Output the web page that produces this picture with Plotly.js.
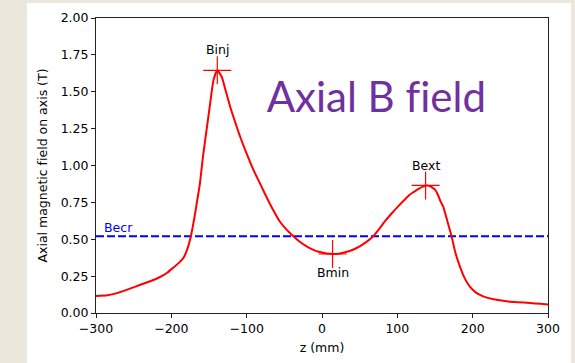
<!DOCTYPE html>
<html>
<head>
<meta charset="utf-8">
<script src="https://cdn.plot.ly/plotly-3.0.1.min.js"></script>
<style>
html,body{margin:0;padding:0;background:#ebe7dc;width:575px;height:363px;overflow:hidden;}
#card{position:absolute;left:27px;top:3px;width:544px;height:360px;background:#ffffff;}
#chart{width:544px;height:360px;}
#chart text{font-variant-ligatures:none;font-feature-settings:"liga" 0;}
</style>
</head>
<body>
<div id="card"><div id="chart"></div></div>
<script>
// Axial magnetic field profile
const zValues = [-300,-285,-272,-255,-242,-228,-215,-205,-198,-190,-184,-179,-175,-171,-167,-162,-158,-153,-149,-144,-139,-133,-128,-122,-115,-109,-100,-91,-82,-74,-65,-56,-47,-38,-30,-21,-12,-3,6,15,24,32,41,50,59,68,77,85,93,101,110,116,121,126,130,134,138,142,146,150,154,157,161,166,172,177,183,189,196,204,214,228,245,260,276,290,300];
const bValues = [0.115,0.12,0.135,0.165,0.19,0.215,0.244,0.275,0.305,0.34,0.373,0.43,0.5,0.6,0.72,0.88,1.06,1.25,1.40,1.58,1.645,1.60,1.51,1.40,1.29,1.20,1.08,0.97,0.875,0.79,0.70,0.62,0.565,0.52,0.485,0.454,0.43,0.413,0.403,0.40,0.404,0.413,0.429,0.452,0.482,0.52,0.577,0.631,0.678,0.723,0.77,0.80,0.818,0.835,0.847,0.857,0.864,0.862,0.852,0.836,0.80,0.76,0.72,0.63,0.52,0.41,0.316,0.24,0.18,0.14,0.113,0.093,0.079,0.073,0.068,0.062,0.058];

const becrValue = 0.52;
const becrLabel = "Becr";

const markerNames = ["Binj","Bmin","Bext"];
const markerZ = [-139, 14, 137.5];
const markerB = [1.645, 0.40, 0.865];
const markerLabelB = [1.785, 0.275, 1.0];

const xTicks = [-300,-200,-100,0,100,200,300];
const yTicks = [0,0.25,0.5,0.75,1.0,1.25,1.5,1.75,2.0];

const chartTitle = "Axial B field";
const xTitle = "z (mm)";
const yTitle = "Axial magnetic field on axis (T)";

const baseFont = {family:"DejaVu Sans", size:12.5, color:"#000"};

const traces = [
  {x:[xTicks[0], xTicks[xTicks.length-1]], y:[becrValue, becrValue], mode:"lines",
   line:{color:"#0000ff", width:2, dash:"8px,3px"}, hoverinfo:"skip"},
  {x:zValues, y:bValues, mode:"lines", line:{color:"#ff0000", width:2, shape:"spline", smoothing:0.5}},
  {x:markerZ, y:markerB, mode:"markers",
   marker:{symbol:"cross-thin", size:20, color:"#ff0000", line:{color:"#ff0000", width:1.2}}}
];

const annotations = markerNames.map((n,i)=>({
  x:markerZ[i], y:markerLabelB[i], xref:"x", yref:"y", text:n, showarrow:false,
  font:baseFont, xanchor:"center", yanchor:"middle"
}));
annotations.push({x:-292, y:becrValue+0.063, xref:"x", yref:"y", text:becrLabel, showarrow:false,
  font:{family:"DejaVu Sans", size:12.5, color:"#0000ff"}, xanchor:"left", yanchor:"middle"});
annotations.push({x:0.62, y:0.735, xref:"paper", yref:"paper", text:chartTitle, showarrow:false,
  font:{family:"Lato", size:42, color:"#7030a0"}, xanchor:"center", yanchor:"middle"});

const layout = {
  width:544, height:360,
  margin:{l:69, r:22.5, t:15, b:49.7},
  paper_bgcolor:"#ffffff", plot_bgcolor:"#ffffff",
  showlegend:false,
  xaxis:{range:[-300,300], tickvals:xTicks, ticks:"outside", ticklen:4, tickcolor:"#222",
    showline:true, mirror:true, linecolor:"#222", linewidth:1, showgrid:false, zeroline:false,
    tickfont:baseFont, title:{text:xTitle, font:baseFont, standoff:8}},
  yaxis:{range:[0,2], tickvals:yTicks, tickformat:".2f", ticks:"outside", ticklen:4, tickcolor:"#222",
    showline:true, mirror:true, linecolor:"#222", linewidth:1, showgrid:false, zeroline:false,
    tickfont:baseFont, title:{text:yTitle, font:baseFont, standoff:10}},
  annotations:annotations
};

Plotly.newPlot("chart", traces, layout, {displayModeBar:false, staticPlot:true});
</script>
</body>
</html>
